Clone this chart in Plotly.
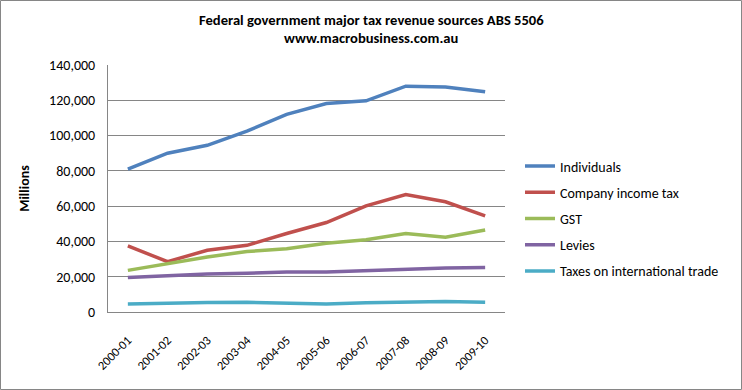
import plotly.graph_objects as go

years = ["2000-01", "2001-02", "2002-03", "2003-04", "2004-05",
         "2005-06", "2006-07", "2007-08", "2008-09", "2009-10"]
individuals = [81000, 90000, 94500, 102500, 112000, 118200, 119700, 128000, 127500, 124800]
company = [37500, 28500, 35000, 37800, 44500, 50700, 60200, 66600, 62500, 54500]
gst = [23600, 27600, 31200, 34300, 35800, 39000, 41000, 44500, 42400, 46500]
levies = [19500, 20500, 21500, 22000, 22700, 22700, 23500, 24200, 25000, 25200]
trade = [4500, 5000, 5400, 5500, 5200, 4600, 5200, 5600, 5900, 5500]

series = [
    ("Individuals", individuals, "#4F81BD"),
    ("Company income tax", company, "#C0504D"),
    ("GST", gst, "#9BBB59"),
    ("Levies", levies, "#8064A2"),
    ("Taxes on international trade", trade, "#4BACC6"),
]

title_lines = ["Federal government major tax revenue sources ABS 5506",
               "www.macrobusiness.com.au"]

FONT = "Carlito, Lato, 'Open Sans', sans-serif"
FS = 14

fig = go.Figure()
for i, (name, vals, col) in enumerate(series):
    fig.add_trace(go.Scatter(x=years, y=vals, name=name, mode="lines",
                             legendgroup=f"g{i}",
                             line=dict(color=col, width=3.5)))

L, R, T, B = 108, 237, 65, 78
W, H = 742, 390
pw, ph = W - L - R, H - T - B

annotations = []
for text, ypix in zip(title_lines, [20, 38]):
    annotations.append(dict(text=f"<b>{text}</b>", xref="paper", yref="paper",
                            x=(W / 2 - L) / pw, y=(312 - ypix) / ph,
                            xanchor="center", yanchor="middle", showarrow=False,
                            font=dict(family=FONT, size=14.6, color="black")))

fig.update_layout(
    width=W, height=H,
    margin=dict(l=L, r=R, t=T, b=B, autoexpand=False),
    paper_bgcolor="white", plot_bgcolor="white",
    font=dict(family=FONT, size=FS, color="black"),
    annotations=annotations,
    showlegend=True,
    legend=dict(x=(520 - L) / pw, xanchor="left", y=(312 - 218.5) / ph, yanchor="middle",
                font=dict(family=FONT, size=FS, color="black"),
                tracegroupgap=5, itemwidth=30, bgcolor="rgba(0,0,0,0)"),
    xaxis=dict(type="category", tickangle=-45, showgrid=False, showline=True,
               linecolor="#868686", linewidth=1, ticks="", tickfont=dict(size=12.5),
               ticklabelstandoff=15, range=[-0.5, 9.5], fixedrange=True),
    yaxis=dict(range=[0, 140000], dtick=20000, tickformat=",", showgrid=True,
               gridcolor="#868686", gridwidth=1, showline=True, linecolor="#868686",
               linewidth=1, ticks="", zeroline=False, tickfont=dict(size=FS),
               ticklabelstandoff=9, fixedrange=True,
               title=dict(text="<b>Millions</b>", font=dict(size=FS), standoff=16)),
    shapes=[dict(type="rect", xref="paper", yref="paper",
                 x0=(0.5 - L) / pw, x1=(W - 0.5 - L) / pw,
                 y0=(312 - (H - 0.5)) / ph, y1=(312 - 0.5) / ph,
                 line=dict(color="#868686", width=1), fillcolor="rgba(0,0,0,0)",
                 layer="below")],
)

fig.write_html("out.html", config={"displayModeBar": False},
               post_script="document.body.style.margin='0';document.body.style.padding='0';")
